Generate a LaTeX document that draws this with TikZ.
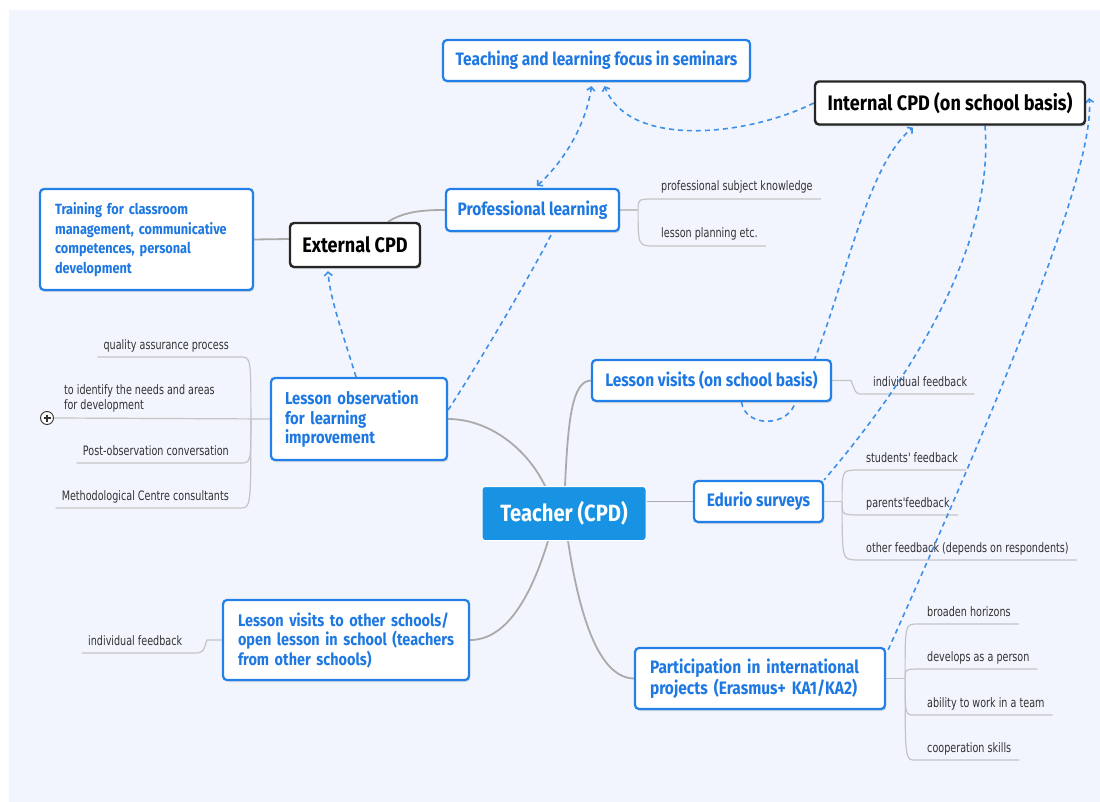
\documentclass[tikz,border=0pt]{standalone}
\usepackage{fontspec}
\setmainfont{Fira Sans}[FakeStretch=0.86]
\newfontfamily\leaffont{DejaVu Sans}[FakeStretch=0.74]
\usetikzlibrary{calc,shadows,arrows.meta}
\definecolor{bgc}{RGB}{242,245,254}
\definecolor{boxblue}{RGB}{34,128,232}
\definecolor{txtblue}{RGB}{30,120,226}
\definecolor{hubblue}{RGB}{24,146,226}
\definecolor{trunkc}{RGB}{170,170,170}
\definecolor{twigc}{RGB}{196,196,196}
\definecolor{dashc}{RGB}{60,144,232}
\definecolor{leafc}{RGB}{50,50,50}
\pgfdeclarelayer{bg}
\pgfdeclarelayer{links}
\pgfsetlayers{bg,links,main}
\newcommand\mmBlue{\bfseries\fontsize{18}{19.7}\selectfont}
\newcommand\mmBlack{\bfseries\fontsize{21}{24}\selectfont}
\newcommand\mmHub{\bfseries\fontsize{23.5}{26}\selectfont}
\newcommand\mmLeaf{\leaffont\fontsize{13}{15}\selectfont}
\begin{document}
\begin{tikzpicture}[x=1pt,y=-1pt,
  bluebox/.style={draw=boxblue,line width=2.2pt,rounded corners=4pt,fill=white,text=txtblue,font=\mmBlue,inner ysep=0pt,
    drop shadow={shadow xshift=1.2pt,shadow yshift=-2pt,opacity=0.25}},
  blackbox/.style={draw=black!85,line width=2.4pt,rounded corners=4pt,fill=white,text=black,font=\mmBlack,inner ysep=0pt,
    drop shadow={shadow xshift=1.2pt,shadow yshift=-2pt,opacity=0.3}},
  hub/.style={fill=hubblue,draw=white,line width=1pt,rounded corners=3pt,text=white,font=\mmHub,minimum width=164pt,minimum height=54pt},
  leaf/.style={font=\mmLeaf,text=leafc,inner sep=0pt},
  trunk/.style={draw=trunkc,line width=1.8pt},
  twig/.style={draw=twigc,line width=1.2pt},
  dlink/.style={draw=dashc,line width=1.6pt,dash pattern=on 5pt off 4pt},
  tipto/.style={-{Straight Barb[length=3.5pt,width=8pt]}},
  tipboth/.style={{Straight Barb[length=3.5pt,width=8pt]}-{Straight Barb[length=3.5pt,width=8pt]}}
]
\begin{pgfonlayer}{bg}
\fill[white] (0,0) rectangle (1100,802);
\fill[bgc] (9,10) rectangle (1100,802);
\end{pgfonlayer}
\useasboundingbox (0,0) rectangle (1100,802);

% main nodes
\node[bluebox,minimum width=307pt,minimum height=41pt] (TS) at (596.5,60.5) {Teaching and learning focus in seminars};
\node[blackbox,minimum width=270pt,minimum height=43pt] (IC) at (950,103) {Internal CPD (on school basis)};
\node[bluebox,align=left,text width=183pt,inner xsep=15pt,minimum height=101pt,font=\bfseries\fontsize{14.8}{19.7}\selectfont] (TR) at (146.5,239.5)
  {\mbox{Training for classroom}\\\mbox{management, communicative}\\\mbox{competences, personal}\\\mbox{development}};
\node[blackbox,minimum width=130pt,minimum height=44pt] (EXT) at (355,245) {External CPD};
\node[bluebox,minimum width=173pt,minimum height=42pt] (PL) at (532.5,210) {Professional learning};
\node[bluebox,align=left,text width=148pt,inner xsep=14pt,minimum height=82pt,font=\bfseries\fontsize{17.2}{19.6}\selectfont] (LO) at (359,419)
  {\mbox{Lesson observation}\\\mbox{for learning}\\\mbox{improvement}};
\node[hub] (T) at (564,513.5) {Teacher (CPD)};
\node[bluebox,minimum width=239pt,minimum height=41pt] (LV) at (711.5,380.5) {Lesson visits (on school basis)};
\node[bluebox,minimum width=129pt,minimum height=41pt] (ED) at (758.5,501.5) {Edurio surveys};
\node[bluebox,align=left,text width=216pt,inner xsep=15pt,minimum height=80pt,font=\bfseries\fontsize{16.8}{19.5}\selectfont] (LVO) at (346,640)
  {\mbox{Lesson visits to other schools/}\\\mbox{open lesson in school (teachers}\\\mbox{from other schools)}};
\node[bluebox,align=left,text width=220pt,inner xsep=15pt,minimum height=61pt,font=\bfseries\fontsize{18}{19}\selectfont] (PA) at (760,678.5)
  {\mbox{Participation in international}\\\mbox{projects (Erasmus+ KA1/KA2)}};

% leaves
\node[leaf,anchor=base east] (q1) at (229,349) {quality assurance process};
\node[leaf,anchor=north west,align=left] (q2) at (64,384) {to identify the needs and areas\\for development};
\node[leaf,anchor=base east] (q3) at (229,455) {Post-observation conversation};
\node[leaf,anchor=base east] (q4) at (229,500) {Methodological Centre consultants};
\node[draw=black!80,fill=white,circle,line width=0.9pt,minimum size=13pt,inner sep=0pt] (pl) at (47,418) {};
\node[leaf,anchor=base west] (p1) at (661,191) {professional subject knowledge};
\node[leaf,anchor=base west] (p2) at (661,238) {lesson planning etc.};
\node[leaf,anchor=base west] (v1) at (873,386) {individual feedback};
\node[leaf,anchor=base west] (e1) at (866,462) {students' feedback};
\node[leaf,anchor=base west] (e2) at (866,507) {parents'feedback};
\node[leaf,anchor=base west] (e3) at (866,552) {other feedback (depends on respondents)};
\node[leaf,anchor=base west] (a1) at (927,616) {broaden horizons};
\node[leaf,anchor=base west] (a2) at (927,661) {develops as a person};
\node[leaf,anchor=base west] (a3) at (927,707) {ability to work in a team};
\node[leaf,anchor=base west] (a4) at (927,752) {cooperation skills};
\node[leaf,anchor=base west] (o1) at (88,645) {individual feedback};

\draw[black!80,line width=1.2pt] ($(pl.center)+(-3.5,0)$) -- ($(pl.center)+(3.5,0)$) ($(pl.center)+(0,-3.5)$) -- ($(pl.center)+(0,3.5)$);

\coordinate (jLO) at ($(LO.west)+(-19,0)$);
\coordinate (jPL) at ($(PL.east)+(18,0)$);
\coordinate (jLV) at ($(LV.east)+(19,0)$);
\coordinate (jED) at ($(ED.east)+(18,0)$);
\coordinate (jPA) at ($(PA.east)+(19,0)$);

\begin{pgfonlayer}{links}
% trunk connectors
\draw[trunk] (LO.east) .. controls (490,419) and (528,450) .. ($(T.north)+(-19,0)$);
\draw[trunk] ($(T.north)+(1,0)$) .. controls (568,420) and (572,381) .. (LV.west);
\draw[trunk] ($(T.east)+(0,-12)$) -- (ED.west);
\draw[trunk] ($(T.south)+(-16,0)$) .. controls (530,600) and (505,640) .. (LVO.east);
\draw[trunk] ($(T.south)+(4,0)$) .. controls (580,620) and (600,678) .. (PA.west);
\draw[trunk] ($(EXT.north)+(33,0)$) .. controls (405,211) and (425,210) .. (PL.west);
\draw[trunk] (TR.east) -- ($(EXT.west)+(0,-6)$);

% twigs
\draw[twig] (LO.west) -- (pl.east);
\draw[twig] (jLO) .. controls ($(jLO)+(0,-62)$) .. ($(q1.base east)+(11,8)$) -- ($(q1.base west)+(-6,8)$);
\draw[twig] (jLO) .. controls ($(jLO)+(0,44)$) .. ($(q3.base east)+(11,8)$) -- ($(q3.base west)+(-6,8)$);
\draw[twig] (jLO) .. controls ($(jLO)+(0,89)$) .. ($(q4.base east)+(11,8)$) -- ($(q4.base west)+(-6,8)$);

\draw[twig] (PL.east) -- (jPL);
\draw[twig] (jPL) .. controls ($(jPL)+(0,-11)$) .. ($(p1.base west)+(-6,8)$) -- ($(p1.base east)+(8,8)$);
\draw[twig] (jPL) .. controls ($(jPL)+(0,36)$) .. ($(p2.base west)+(-6,8)$) -- ($(p2.base east)+(8,8)$);

\draw[twig] (LV.east) -- (jLV) .. controls ($(jLV)+(5,14)$) .. ($(v1.base west)+(-8,8)$) -- ($(v1.base east)+(7,8)$);

\draw[twig] (ED.east) -- (jED);
\draw[twig] (jED) .. controls ($(jED)+(0,-31)$) .. ($(e1.base west)+(-10,8)$) -- ($(e1.base east)+(8,8)$);
\draw[twig] (jED) .. controls ($(jED)+(0,13)$) .. ($(e2.base west)+(-10,8)$) -- ($(e2.base east)+(8,8)$);
\draw[twig] (jED) .. controls ($(jED)+(0,58)$) .. ($(e3.base west)+(-10,8)$) -- ($(e3.base east)+(8,8)$);

\draw[twig] (PA.east) -- (jPA);
\draw[twig] (jPA) .. controls ($(jPA)+(0,-54)$) .. ($(a1.base west)+(-11,8)$) -- ($(a1.base east)+(8,8)$);
\draw[twig] (jPA) .. controls ($(jPA)+(0,-9)$) .. ($(a2.base west)+(-11,8)$) -- ($(a2.base east)+(8,8)$);
\draw[twig] (jPA) .. controls ($(jPA)+(0,37)$) .. ($(a3.base west)+(-11,8)$) -- ($(a3.base east)+(8,8)$);
\draw[twig] (jPA) .. controls ($(jPA)+(0,82)$) .. ($(a4.base west)+(-11,8)$) -- ($(a4.base east)+(8,8)$);

\draw[twig] (LVO.west) -- ($(LVO.west)+(-15,0)$) .. controls ($(LVO.west)+(-19,13)$) .. ($(o1.base east)+(10,8)$) -- ($(o1.base west)+(-6,8)$);

% dashed links
\draw[dlink,tipto] ($(LO.north)+(-3,0)$) .. controls (345,340) and (330,300) .. ($(EXT.south)+(-27,3)$);
\draw[dlink] ($(LO.east)+(0,-9)$) .. controls (481,360) and (535,267) .. ($(PL.south)+(20,0)$);
\draw[dlink,tipboth] ($(PL.north)+(4.5,-2)$) .. controls (560,165) and (585,130) .. ($(TS.south)+(-5,4)$);
\draw[dlink,tipto] (IC.west) .. controls (750,135) and (630,150) .. ($(TS.south)+(8,4)$);
\draw[dlink,tipto] ($(LV.south)+(30,0)$) .. controls (745,428) and (790,428) .. (796,400)
   .. controls (840,320) and (860,170) .. ($(IC.south)+(-37,2)$);
\draw[dlink] ($(IC.south)+(35,0)$) .. controls (995,250) and (905,385) .. (ED.north east);
\draw[dlink,tipto] ($(PA.north east)+(2,3)$) .. controls (1000,400) and (1095,170) .. ($(IC.east)+(3,-5)$);
\end{pgfonlayer}
\end{tikzpicture}
\end{document}
